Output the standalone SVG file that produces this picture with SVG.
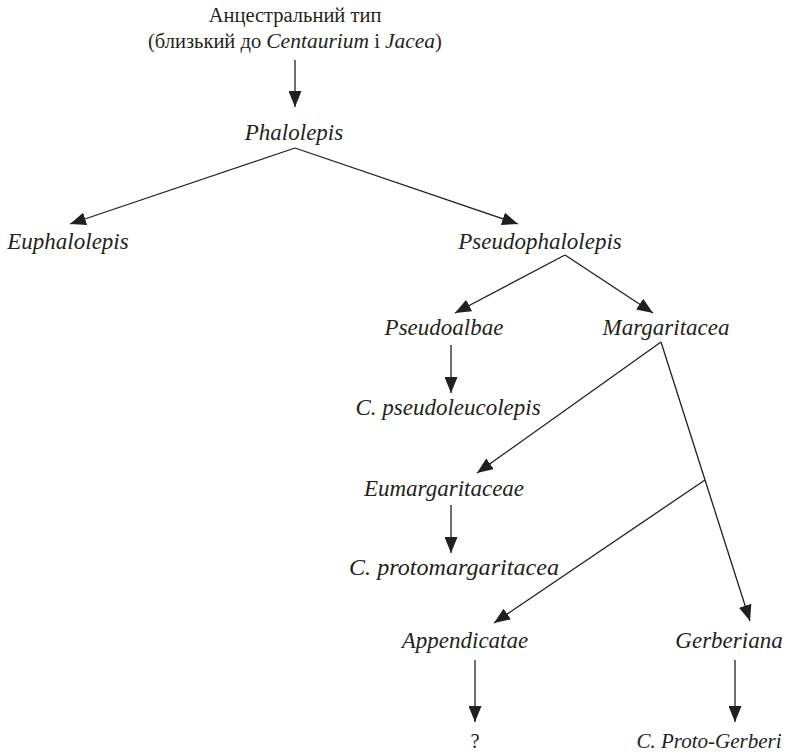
<svg xmlns="http://www.w3.org/2000/svg" width="787" height="756" viewBox="0 0 787 756">
<defs>
<marker id="ah" markerUnits="userSpaceOnUse" markerWidth="17" markerHeight="13" refX="16" refY="6.5" orient="auto">
<path d="M0,0 L16,6.5 L0,13 Z" fill="#231f20"/>
</marker>
<style>
text{font-family:"Liberation Serif","Times New Roman",serif;font-size:20.5px;fill:#231f20;text-anchor:middle}
.i{font-style:italic;font-size:23px}
.t{font-style:italic;font-size:21.5px}
.c line{stroke:#231f20;stroke-width:1.3;fill:none}
</style>
</defs>
<rect width="787" height="756" fill="#fff"/>
<g id="ancestral">
<text x="295" y="22">Анцестральний тип</text>
<text x="295" y="48">(близький до <tspan class="t">Centaurium</tspan> і <tspan class="t">Jacea</tspan>)</text>
</g>
<g id="phalolepis"><text class="i" x="294" y="140">Phalolepis</text></g>
<g id="euphalolepis"><text class="i" x="68" y="249">Euphalolepis</text></g>
<g id="pseudophalolepis"><text class="i" x="540" y="249">Pseudophalolepis</text></g>
<g id="pseudoalbae"><text class="i" x="444" y="335">Pseudoalbae</text></g>
<g id="margaritacea"><text class="i" x="666" y="335">Margaritacea</text></g>
<g id="pseudoleucolepis"><text class="i" x="448" y="415">C. pseudoleucolepis</text></g>
<g id="eumargaritaceae"><text class="i" x="444" y="496">Eumargaritaceae</text></g>
<g id="protomargaritacea"><text class="i" x="454" y="575" textLength="210" lengthAdjust="spacingAndGlyphs">C. protomargaritacea</text></g>
<g id="appendicatae"><text class="i" x="465" y="648">Appendicatae</text></g>
<g id="gerberiana"><text class="i" x="729" y="648">Gerberiana</text></g>
<g id="unknown"><text x="475" y="748">?</text></g>
<g id="protogerberi"><text class="i" x="709" y="748" style="font-size:21px">C. Proto-Gerberi</text></g>
<g id="connectors" class="c">
<line x1="295" y1="60" x2="295" y2="107" marker-end="url(#ah)"/>
<line x1="295" y1="148" x2="70" y2="224" marker-end="url(#ah)"/>
<line x1="295" y1="148" x2="518" y2="224" marker-end="url(#ah)"/>
<line x1="565" y1="255" x2="455" y2="313" marker-end="url(#ah)"/>
<line x1="565" y1="255" x2="653" y2="313" marker-end="url(#ah)"/>
<line x1="451" y1="345" x2="451" y2="393" marker-end="url(#ah)"/>
<line x1="661" y1="342" x2="477" y2="473" marker-end="url(#ah)"/>
<line x1="661" y1="342" x2="750" y2="621" marker-end="url(#ah)"/>
<line x1="705" y1="480" x2="494" y2="623" marker-end="url(#ah)"/>
<line x1="451" y1="505" x2="451" y2="553" marker-end="url(#ah)"/>
<line x1="475" y1="660" x2="475" y2="722" marker-end="url(#ah)"/>
<line x1="735" y1="660" x2="735" y2="722" marker-end="url(#ah)"/>
</g>
</svg>
